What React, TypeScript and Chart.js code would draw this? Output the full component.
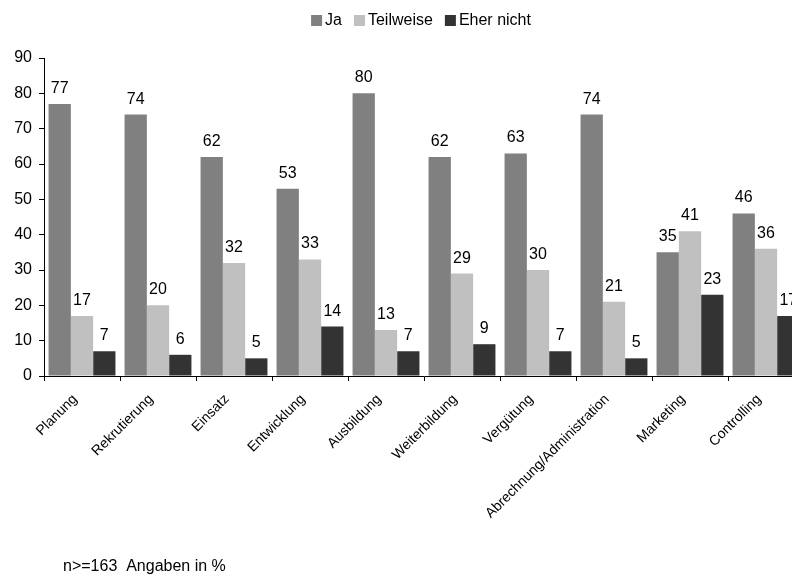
import React, { useEffect, useRef } from "react";
import { Chart, registerables } from "chart.js";

Chart.register(...registerables);

const categories = [
  "Planung",
  "Rekrutierung",
  "Einsatz",
  "Entwicklung",
  "Ausbildung",
  "Weiterbildung",
  "Vergütung",
  "Abrechnung/Administration",
  "Marketing",
  "Controlling",
];

const seriesNames = ["Ja", "Teilweise", "Eher nicht"];
const seriesColors = ["#808080", "#c0c0c0", "#333333"];

const jaValues = [77, 74, 62, 53, 80, 62, 63, 74, 35, 46];
const teilweiseValues = [17, 20, 32, 33, 13, 29, 30, 21, 41, 36];
const eherNichtValues = [7, 6, 5, 14, 7, 9, 7, 5, 23, 17];

const yTicks = [0, 10, 20, 30, 40, 50, 60, 70, 80, 90];

const footnote = "n>=163  Angaben in %";

const FONT = "'Liberation Sans', Arial, Helvetica, sans-serif";

// value printed above every bar
const valueLabels = {
  id: "valueLabels",
  afterDatasetsDraw(chart: any) {
    const ctx = chart.ctx;
    ctx.save();
    ctx.font = `16px ${FONT}`;
    ctx.fillStyle = "#000";
    ctx.textAlign = "center";
    ctx.textBaseline = "alphabetic";
    chart.data.datasets.forEach((ds: any, i: number) => {
      const meta = chart.getDatasetMeta(i);
      meta.data.forEach((bar: any, j: number) => {
        ctx.fillText(String(ds.data[j]), bar.x, bar.y - 11);
      });
    });
    ctx.restore();
  },
};

// compact legend row: small square, tight gap, label
const legendRow = {
  id: "legendRow",
  afterDraw(chart: any) {
    const ctx = chart.ctx;
    ctx.save();
    ctx.font = `16px ${FONT}`;
    const box = 11;
    const gapText = 3;
    const gapItem = 12;
    const widths = seriesNames.map((n) => ctx.measureText(n).width);
    const total =
      widths.reduce((a, w) => a + box + gapText + w, 0) + gapItem * (seriesNames.length - 1);
    let x = 421 - total / 2;
    const baseline = 25;
    seriesNames.forEach((name, i) => {
      ctx.fillStyle = seriesColors[i];
      ctx.fillRect(x, 15, box, box);
      x += box + gapText;
      ctx.fillStyle = "#000";
      ctx.textAlign = "left";
      ctx.textBaseline = "alphabetic";
      ctx.fillText(name, x, baseline);
      x += widths[i] + gapItem;
    });
    ctx.restore();
  },
};

const footnotePlugin = {
  id: "footnote",
  afterDraw(chart: any) {
    const ctx = chart.ctx;
    ctx.save();
    ctx.font = `16px ${FONT}`;
    ctx.fillStyle = "#000";
    ctx.textAlign = "left";
    ctx.textBaseline = "alphabetic";
    ctx.fillText(footnote, 63, 571);
    ctx.restore();
  },
};

export default function App() {
  const canvasRef = useRef<HTMLCanvasElement | null>(null);

  useEffect(() => {
    if (!canvasRef.current) return;
    const values = [jaValues, teilweiseValues, eherNichtValues];
    const chart = new Chart(canvasRef.current, {
      type: "bar",
      data: {
        labels: categories,
        datasets: seriesNames.map((name, i) => ({
          label: name,
          data: values[i],
          backgroundColor: seriesColors[i],
        })),
      },
      options: {
        responsive: false,
        animation: false,
        maintainAspectRatio: false,
        datasets: {
          bar: { categoryPercentage: 0.88, barPercentage: 1.0, borderWidth: 0 },
        },
        layout: { padding: { top: 58, right: 0, bottom: 0, left: 0 } },
        plugins: {
          legend: { display: false },
          tooltip: { enabled: false },
        },
        scales: {
          x: {
            grid: {
              display: true,
              drawOnChartArea: false,
              drawTicks: true,
              tickLength: 5,
              color: "#000",
              offset: true,
            },
            border: { display: true, color: "#000", width: 1 },
            ticks: {
              maxRotation: 45,
              minRotation: 45,
              autoSkip: false,
              padding: 10,
              labelOffset: -7,
              color: "#000",
              font: { family: FONT, size: 14 },
            },
            afterFit(scale: any) {
              scale.height = 200;
            },
          },
          y: {
            min: 0,
            max: 90,
            afterBuildTicks(scale: any) {
              scale.ticks = yTicks.map((v) => ({ value: v }));
            },
            grid: {
              display: true,
              drawOnChartArea: false,
              drawTicks: true,
              tickLength: 5,
              color: "#000",
            },
            border: { display: true, color: "#000", width: 1 },
            ticks: {
              padding: 7,
              color: "#000",
              font: { family: FONT, size: 16 },
            },
            afterFit(scale: any) {
              scale.width = 44;
            },
          },
        },
      },
      plugins: [valueLabels, legendRow, footnotePlugin],
    });
    return () => chart.destroy();
  }, []);

  return (
    <div
      style={{
        position: "fixed",
        left: 0,
        top: 0,
        width: 792,
        height: 576,
        overflow: "hidden",
        background: "#fff",
      }}
    >
      <canvas ref={canvasRef} width={804} height={576} style={{ display: "block" }} />
    </div>
  );
}
